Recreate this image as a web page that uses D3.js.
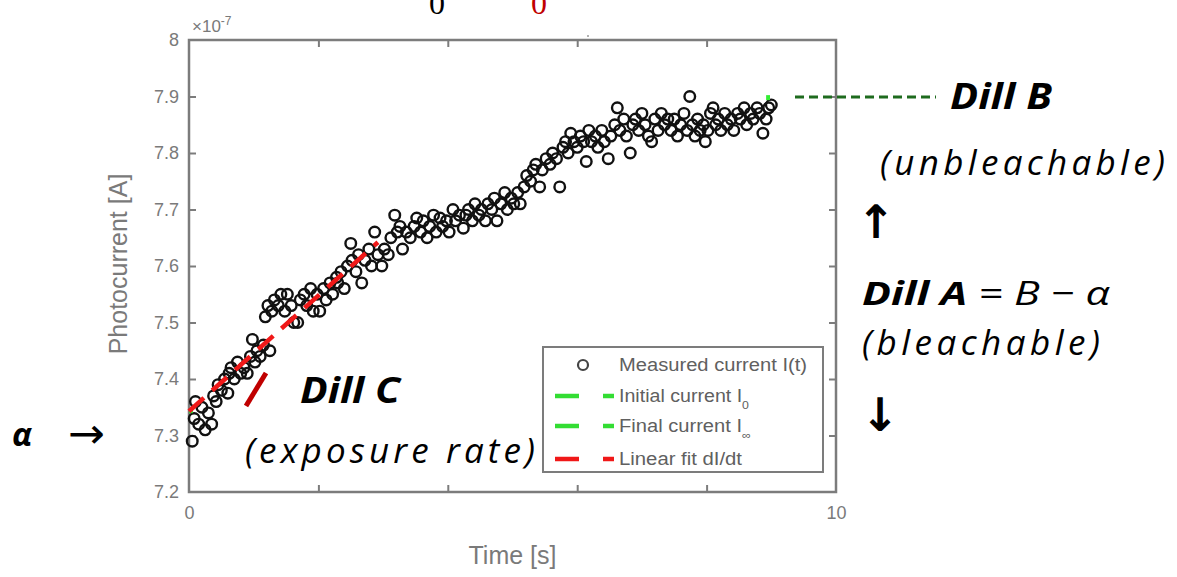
<!DOCTYPE html>
<html>
<head>
<meta charset="utf-8">
<script src="https://cdn.jsdelivr.net/npm/d3@7"></script>
<style>
body { margin: 0; background: white; }
</style>
</head>
<body>
<script>
// measured photocurrent I(t), time in s, current in 1e-7 A
var measuredT = [0.05,0.08,0.10,0.15,0.20,0.25,0.30,0.35,0.38,0.42,0.45,0.50,0.55,0.60,0.62,0.65,0.70,0.75,0.80,0.85,
  0.90,0.95,0.98,1.02,1.05,1.10,1.15,1.18,1.22,1.25,1.28,1.32,1.38,1.42,1.48,1.52,1.58,1.62,1.68,1.72,
  1.78,1.82,1.88,1.92,1.98,2.02,2.08,2.12,2.18,2.22,2.28,2.30,2.35,2.40,2.45,2.50,2.52,2.58,2.62,2.67,
  2.72,2.78,2.82,2.87,2.92,2.98,3.02,3.08,3.12,3.18,3.22,3.26,3.30,3.36,3.42,3.48,3.52,3.58,3.62,3.68,
  3.72,3.78,3.82,3.88,3.92,3.98,4.02,4.08,4.12,4.18,4.24,4.28,4.32,4.38,4.42,4.48,4.52,4.58,4.62,4.68,
  4.72,4.76,4.82,4.88,4.92,4.98,5.02,5.08,5.12,5.18,5.22,5.28,5.32,5.36,5.42,5.46,5.52,5.58,5.62,5.68,
  5.73,5.78,5.82,5.86,5.90,5.95,6.00,6.05,6.10,6.14,6.18,6.22,6.28,6.32,6.38,6.42,6.48,6.52,6.58,6.62,
  6.66,6.72,6.76,6.82,6.86,6.90,6.95,7.00,7.05,7.10,7.15,7.20,7.25,7.30,7.35,7.40,7.45,7.50,7.55,7.60,
  7.65,7.70,7.74,7.78,7.82,7.86,7.90,7.95,7.98,8.02,8.06,8.10,8.14,8.18,8.22,8.28,8.32,8.38,8.42,8.48,
  8.52,8.58,8.62,8.68,8.72,8.78,8.82,8.87,8.92,8.96,9.00];
var measuredI = [7.29,7.33,7.36,7.32,7.35,7.31,7.34,7.32,7.37,7.36,7.39,7.38,7.40,7.375,7.41,7.42,7.40,7.43,7.41,7.42,
  7.41,7.44,7.47,7.43,7.45,7.44,7.46,7.51,7.53,7.45,7.52,7.54,7.53,7.55,7.52,7.55,7.53,7.50,7.50,7.54,
  7.55,7.53,7.56,7.52,7.55,7.52,7.56,7.54,7.57,7.55,7.58,7.57,7.59,7.56,7.60,7.64,7.61,7.59,7.62,7.57,
  7.61,7.63,7.60,7.66,7.62,7.60,7.63,7.62,7.65,7.69,7.66,7.67,7.63,7.66,7.65,7.67,7.685,7.66,7.68,7.65,
  7.67,7.69,7.66,7.685,7.67,7.68,7.66,7.70,7.68,7.69,7.667,7.69,7.70,7.68,7.71,7.69,7.70,7.68,7.71,7.70,
  7.72,7.68,7.71,7.73,7.70,7.72,7.71,7.73,7.71,7.74,7.76,7.75,7.77,7.78,7.74,7.77,7.79,7.78,7.80,7.79,
  7.74,7.81,7.82,7.80,7.835,7.82,7.81,7.83,7.82,7.785,7.84,7.82,7.83,7.81,7.84,7.82,7.79,7.83,7.85,7.88,
  7.84,7.86,7.83,7.80,7.85,7.86,7.84,7.87,7.85,7.83,7.82,7.86,7.84,7.87,7.85,7.86,7.84,7.86,7.83,7.85,
  7.87,7.84,7.90,7.85,7.83,7.86,7.84,7.85,7.82,7.84,7.87,7.88,7.85,7.86,7.84,7.87,7.85,7.86,7.84,7.87,
  7.86,7.88,7.85,7.87,7.86,7.88,7.87,7.835,7.86,7.88,7.885];

// fitted lines [t, I]
var linearFit = [[0, 7.343], [2.92, 7.642]];
var initialCurrent = [[0, 7.343], [0.06, 7.343]];
var finalCurrent = [[8.92, 7.898], [8.98, 7.898]];

var yTicks = [7.2, 7.3, 7.4, 7.5, 7.6, 7.7, 7.8, 7.9, 8];
var xTicks = [0, 2, 4, 6, 8, 10];
var xTickLabels = ["0", "", "", "", "", "10"];
var legendLabels = ["Measured current I(t)", "Initial current I", "Final current I", "Linear fit dI/dt"];
var legendSubs = ["", "0", "\u221e", ""];

drawChart();

function drawChart(){
var W = 1177, H = 577;
var mLeft = 189, mRight = 836, mTop = 40, mBottom = 492;
var axisGray = "#7c7c7c", textGray = "#7a7a7a";
var annFont = "'Open Sans', 'DejaVu Sans', sans-serif";
var chartFont = "'Liberation Sans', Arial, sans-serif";

var svg = d3.select("body").append("svg")
  .attr("width", W).attr("height", H)
  .style("font-family", chartFont);

var x = d3.scaleLinear().domain([0, 10]).range([mLeft, mRight]);
var y = d3.scaleLinear().domain([7.2, 8]).range([mBottom, mTop]);

/* partial text cut at the top of the picture */
svg.append("text").attr("x", 437).attr("y", 14).attr("text-anchor", "middle")
  .style("font-family", "'Liberation Serif', serif").style("font-size", "32px").attr("fill", "black").text("0");
svg.append("text").attr("x", 539).attr("y", 14).attr("text-anchor", "middle")
  .style("font-family", "'Liberation Serif', serif").style("font-size", "32px").attr("fill", "#c00000").text("0");
svg.append("circle").attr("cx", 588).attr("cy", 36).attr("r", 1).attr("fill", "#999");

var plot = svg.append("g");

/* axes frame */
plot.append("rect")
  .attr("x", mLeft).attr("y", mTop).attr("width", mRight - mLeft).attr("height", mBottom - mTop)
  .attr("fill", "white").attr("stroke", axisGray).attr("stroke-width", 2.5);

var yAxis = d3.axisLeft(y).tickValues(yTicks).tickSize(-7).tickPadding(10)
  .tickFormat(function(d){ return String(+d.toFixed(1)); });
var gy = plot.append("g").attr("transform", "translate(" + mLeft + ",0)").call(yAxis);
var gy2 = plot.append("g").attr("transform", "translate(" + mRight + ",0)")
  .call(d3.axisRight(y).tickValues(yTicks).tickSize(-7).tickFormat(""));
var xAxis = d3.axisBottom(x).tickValues(xTicks).tickSize(-7).tickPadding(14)
  .tickFormat(function(d, i){ return xTickLabels[i]; });
var gx = plot.append("g").attr("transform", "translate(0," + mBottom + ")").call(xAxis);
var gx2 = plot.append("g").attr("transform", "translate(0," + mTop + ")")
  .call(d3.axisTop(x).tickValues(xTicks).tickSize(-7).tickFormat(""));

[gy, gy2, gx, gx2].forEach(function(g){
  g.select(".domain").remove();
  g.selectAll(".tick line").attr("stroke", axisGray).attr("stroke-width", 2);
  g.selectAll(".tick text").attr("fill", textGray).style("font-size", "18px").style("font-family", chartFont);
});
// end ticks sit on the frame
[gy, gy2].forEach(function(g){
  g.selectAll(".tick line").filter(function(d){ return d == 7.2 || d == 8; }).remove();
});
[gx, gx2].forEach(function(g){
  g.selectAll(".tick line").filter(function(d){ return d == 0 || d == 10; }).remove();
});

var expo = plot.append("text").attr("x", mLeft + 3).attr("y", mTop - 8)
  .attr("fill", textGray).style("font-size", "17px");
expo.append("tspan").text("\u00d710");
expo.append("tspan").attr("dy", -7).style("font-size", "12px").text("-7");

plot.append("text")
  .attr("transform", "translate(127," + ((mTop + mBottom) / 2 - 2) + ") rotate(-90)")
  .attr("text-anchor", "middle").attr("fill", textGray).style("font-size", "25px")
  .text("Photocurrent [A]");
plot.append("text").attr("x", (mLeft + mRight) / 2).attr("y", 564)
  .attr("text-anchor", "middle").attr("fill", textGray).style("font-size", "25px")
  .text("Time [s]");

/* measured points */
var pts = measuredT.map(function(t, i){ return [t, measuredI[i]]; });
plot.append("g").selectAll("circle").data(pts).enter().append("circle")
  .attr("cx", function(d){ return x(d[0]); })
  .attr("cy", function(d){ return y(d[1]); })
  .attr("r", 5.3)
  .attr("fill", "none").attr("stroke", "#111").attr("stroke-width", 2.4);

var line = d3.line().x(function(d){ return x(d[0]); }).y(function(d){ return y(d[1]); });
plot.append("path").datum(initialCurrent).attr("d", line)
  .attr("stroke", "#33dd33").attr("stroke-width", 4).attr("fill", "none");
plot.append("path").datum(finalCurrent).attr("d", line)
  .attr("stroke", "#33ee33").attr("stroke-width", 5).attr("fill", "none");
plot.append("path").datum(linearFit).attr("d", line)
  .attr("stroke", "#f01818").attr("stroke-width", 4.5).attr("fill", "none")
  .attr("stroke-dasharray", "20,11");

/* legend */
var lg = plot.append("g");
lg.append("rect").attr("x", 543).attr("y", 347).attr("width", 280).attr("height", 125)
  .attr("fill", "white").attr("stroke", axisGray).attr("stroke-width", 2);
var rowY = [365, 396, 426, 459];
var rowW = [188, 130, 132, 123];
var legendColors = [null, "#33dd33", "#33dd33", "#f01818"];
legendLabels.forEach(function(lab, i){
  if (i == 0) {
    lg.append("circle").attr("cx", 583).attr("cy", rowY[i]).attr("r", 5)
      .attr("fill", "none").attr("stroke", "#444").attr("stroke-width", 2.2);
  } else {
    lg.append("line").attr("x1", 555).attr("x2", 579).attr("y1", rowY[i]).attr("y2", rowY[i])
      .attr("stroke", legendColors[i]).attr("stroke-width", 4.5);
    lg.append("line").attr("x1", 603).attr("x2", 614).attr("y1", rowY[i]).attr("y2", rowY[i])
      .attr("stroke", legendColors[i]).attr("stroke-width", 4.5);
  }
  var t = lg.append("text").attr("x", 619).attr("y", rowY[i] + 6)
    .attr("fill", "#606060").style("font-size", "17.5px")
    .attr("textLength", rowW[i]).attr("lengthAdjust", "spacingAndGlyphs").text(lab);
  if (legendSubs[i]) t.append("tspan").attr("dy", 7).style("font-size", "11px").text(legendSubs[i]);
});

/* annotations */
var ann = svg.append("g").style("font-family", annFont).attr("fill", "black");

ann.append("line").attr("x1", 795).attr("x2", 936).attr("y1", 97).attr("y2", 97)
  .attr("stroke", "#1e6b1e").attr("stroke-width", 3).attr("stroke-dasharray", "9,5");
ann.append("text").attr("x", 950).attr("y", 109).style("font-size", "36px")
  .style("font-weight", "bold").style("font-style", "italic")
  .attr("textLength", 102).attr("lengthAdjust", "spacingAndGlyphs").text("Dill B");
ann.append("text").attr("x", 880).attr("y", 175).style("font-size", "35px")
  .style("font-style", "italic").attr("textLength", 285).text("(unbleachable)");

var arrowFont = "'DejaVu Sans', sans-serif";
ann.append("text").attr("x", 876).attr("y", 238).attr("text-anchor", "middle").style("font-family", arrowFont)
  .style("font-weight", "bold").style("font-size", "46px").text("\u2191");
var dillA = ann.append("text").attr("x", 862).attr("y", 305).style("font-size", "33px").style("font-style", "italic")
  .attr("textLength", 248).attr("lengthAdjust", "spacingAndGlyphs");
dillA.append("tspan").style("font-weight", "bold").text("Dill A");
dillA.append("tspan").text(" = B \u2212 \u03b1");
ann.append("text").attr("x", 862).attr("y", 355).style("font-size", "35px")
  .style("font-style", "italic").attr("textLength", 238).text("(bleachable)");
ann.append("text").attr("x", 880).attr("y", 431).attr("text-anchor", "middle").style("font-family", arrowFont)
  .style("font-weight", "bold").style("font-size", "46px").text("\u2193");

ann.append("text").attr("x", 12).attr("y", 446).style("font-size", "33px")
  .style("font-weight", "bold").style("font-style", "italic").text("\u03b1");
ann.append("text").attr("x", 68).attr("y", 448).style("font-family", arrowFont)
  .style("font-size", "42px").attr("textLength", 37).attr("lengthAdjust", "spacingAndGlyphs").text("\u2192");

ann.append("line").attr("x1", 266).attr("y1", 373).attr("x2", 246).attr("y2", 406)
  .attr("stroke", "#c00000").attr("stroke-width", 5);
ann.append("text").attr("x", 300).attr("y", 403).style("font-size", "36px")
  .style("font-weight", "bold").style("font-style", "italic")
  .attr("textLength", 100).attr("lengthAdjust", "spacingAndGlyphs").text("Dill C");
ann.append("text").attr("x", 245).attr("y", 463).style("font-size", "35px")
  .style("font-style", "italic").attr("textLength", 290).text("(exposure rate)");
}
</script>
</body>
</html>
